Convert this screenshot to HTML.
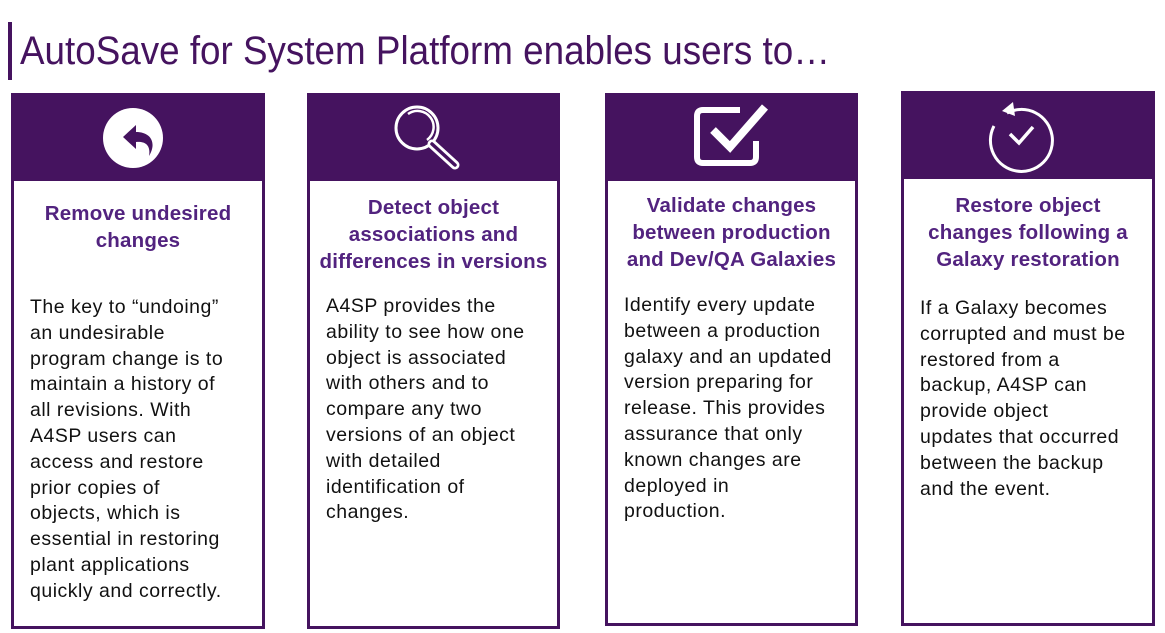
<!DOCTYPE html>
<html><head><meta charset="utf-8"><style>
body{margin:0;width:1165px;height:633px;background:#fff;position:relative;overflow:hidden;font-family:"Liberation Sans",Arial,sans-serif}
.card{position:absolute;box-sizing:border-box;border:3px solid #45135f;border-top:none}
.hd{position:absolute;left:-3px;right:-3px;top:0;height:88px;background:#45135f}
.h{position:absolute;left:-4px;right:-4px;text-align:center;color:#52237f;font-weight:bold;font-size:20.5px;line-height:27px;letter-spacing:0.2px}
.b{position:absolute;left:16px;color:#111;font-size:19.5px;line-height:25.8px;white-space:nowrap;letter-spacing:0.5px}
</style></head><body>
<div style="position:absolute;left:8px;top:22px;width:4px;height:58px;background:#45135f"></div>
<svg style="position:absolute;left:0;top:0" width="1165" height="90"><text x="20" y="64" font-family="Liberation Sans, sans-serif" font-size="40" fill="#45135f" textLength="810" lengthAdjust="spacingAndGlyphs">AutoSave for System Platform enables users to…</text></svg>

<div class="card" style="left:11px;top:93px;width:254px;height:536px">
<div class="hd"><svg width="254" height="88"><circle cx="122" cy="45" r="30" fill="#fff"/><path d="M112 44 L125 32 L125 39 C140 39 146 50 138 63 C140 52 134 48 125 49 L125 56 Z" fill="#45135f"/></svg></div>
<div class="h" style="top:107px">Remove undesired<br>changes</div>
<div class="b" style="top:202px">The key to “undoing”<br>an undesirable<br>program change is to<br>maintain a history of<br>all revisions. With<br>A4SP users can<br>access and restore<br>prior copies of<br>objects, which is<br>essential in restoring<br>plant applications<br>quickly and correctly.</div>
</div>

<div class="card" style="left:307px;top:93px;width:253px;height:536px">
<div class="hd"><svg width="253" height="88"><g fill="none" stroke="#fff" stroke-width="3"><circle cx="110" cy="35" r="21"/><path d="M101 21 A15 15 0 0 1 120 47" stroke-width="2.5"/></g><path d="M125 51 L148 72" stroke="#fff" stroke-width="9" stroke-linecap="round"/><path d="M125 51 L148 72" stroke="#45135f" stroke-width="3.5" stroke-linecap="round"/></svg></div>
<div class="h" style="top:101px">Detect object<br>associations and<br>differences in versions</div>
<div class="b" style="top:201px">A4SP provides the<br>ability to see how one<br>object is associated<br>with others and to<br>compare any two<br>versions of an object<br>with detailed<br>identification of<br>changes.</div>
</div>

<div class="card" style="left:605px;top:93px;width:253px;height:533px">
<div class="hd"><svg width="253" height="88"><path d="M151 48 V64 Q151 70 145 70 H98 Q92 70 92 64 V23 Q92 17 98 17 H135" fill="none" stroke="#fff" stroke-width="6"/><path d="M108 37 L125 54 L160 14" fill="none" stroke="#fff" stroke-width="8"/></svg></div>
<div class="h" style="top:99px">Validate changes<br>between production<br>and Dev/QA Galaxies</div>
<div class="b" style="top:200px">Identify every update<br>between a production<br>galaxy and an updated<br>version preparing for<br>release. This provides<br>assurance that only<br>known changes are<br>deployed in<br>production.</div>
</div>

<div class="card" style="left:901px;top:91px;width:254px;height:535px">
<div class="hd"><svg width="254" height="88"><path d="M106 22 A31 31 0 1 1 93 35" fill="none" stroke="#fff" stroke-width="3"/><path d="M101 20 L112 11 L114 25 Z" fill="#fff"/><path d="M109 43 L118 52 L132 36" fill="none" stroke="#fff" stroke-width="3.5"/></svg></div>
<div class="h" style="top:101px">Restore object<br>changes following a<br>Galaxy restoration</div>
<div class="b" style="top:205px">If a Galaxy becomes<br>corrupted and must be<br>restored from a<br>backup, A4SP can<br>provide object<br>updates that occurred<br>between the backup<br>and the event.</div>
</div>
</body></html>
